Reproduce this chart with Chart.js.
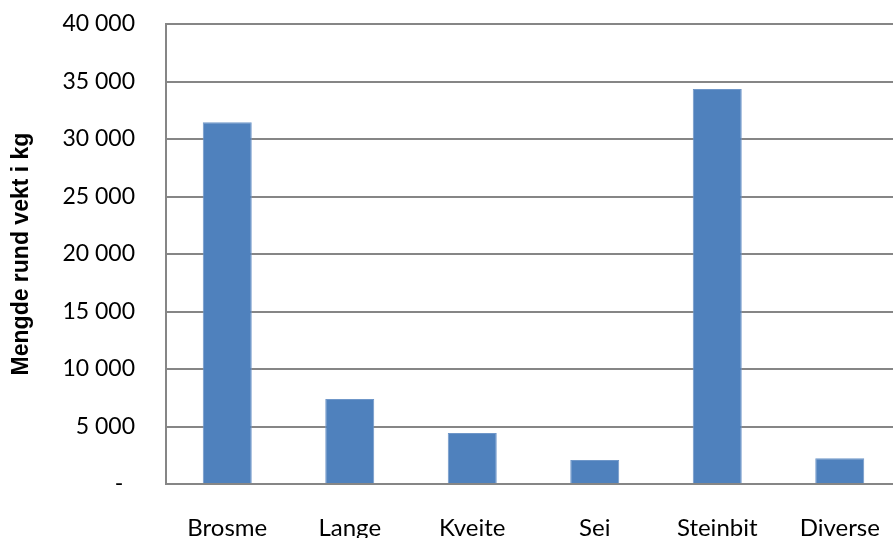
<!DOCTYPE html>
<html>
<head>
<meta charset="utf-8">
<script src="https://cdn.jsdelivr.net/npm/chart.js@4"></script>
<style>
    html, body { margin: 0; padding: 0; background: #fff; overflow: hidden; }
    #wrap { width: 901px; height: 538px; }
</style>
</head>
<body>
<div id="wrap"><canvas id="fishChart"></canvas></div>
<script>
// Fangst per art
const categories = ["Brosme", "Lange", "Kveite", "Sei", "Steinbit", "Diverse"];
const amounts = [31450, 7390, 4440, 2090, 34350, 2230];
const yTicks = [0, 5000, 10000, 15000, 20000, 25000, 30000, 35000, 40000];
const yTitle = "Mengde rund vekt i kg";

const fontFamily = "Lato, 'Open Sans', sans-serif";

function formatKg(value) {
    if (value === 0) {
        return "-  ";
    }
    return String(value).replace(/\B(?=(\d{3})+(?!\d))/g, " ");
}

const ctx = document.getElementById("fishChart");

new Chart(ctx, {
    type: "bar",

    data: {
        labels: categories,
        datasets: [{
            data: amounts,
            backgroundColor: "#4f81bd",
            borderColor: "#6f97c9",
            borderWidth: 1,
            categoryPercentage: 1,
            barPercentage: 0.4
        }]
    },

    options: {
        responsive: true,
        maintainAspectRatio: false,
        animation: false,
        layout: {
            padding: { top: 24, left: 0, right: 0, bottom: 0 }
        },
        plugins: {
            legend: { display: false },
            tooltip: { enabled: false }
        },
        scales: {
            x: {
                grid: { display: false },
                border: { display: true, color: "#868686", width: 2 },
                ticks: {
                    color: "#000",
                    padding: 22,
                    maxRotation: 0,
                    font: { family: fontFamily, size: 24 }
                },
                afterFit: scale => {
                    scale.height = 54;
                    scale.paddingLeft = 0;
                    scale.paddingRight = 0;
                }
            },
            y: {
                min: 0,
                max: 40000,
                afterBuildTicks: scale => {
                    scale.ticks = yTicks.map(v => ({ value: v }));
                },
                grid: {
                    color: "#868686",
                    lineWidth: 2,
                    drawTicks: false
                },
                border: { display: true, color: "#868686", width: 2 },
                ticks: {
                    color: "#000",
                    padding: 31,
                    font: { family: fontFamily, size: 23 },
                    callback: value => formatKg(value)
                },
                title: {
                    display: true,
                    text: yTitle,
                    color: "#000",
                    padding: { top: 8, bottom: 0 },
                    font: { family: "'Liberation Sans', Arial, sans-serif", size: 23, weight: "bold" }
                },
                afterFit: scale => {
                    scale.width = 166;
                    scale.paddingTop = 0;
                    scale.paddingBottom = 0;
                }
            }
        }
    }
});
</script>
</body>
</html>
